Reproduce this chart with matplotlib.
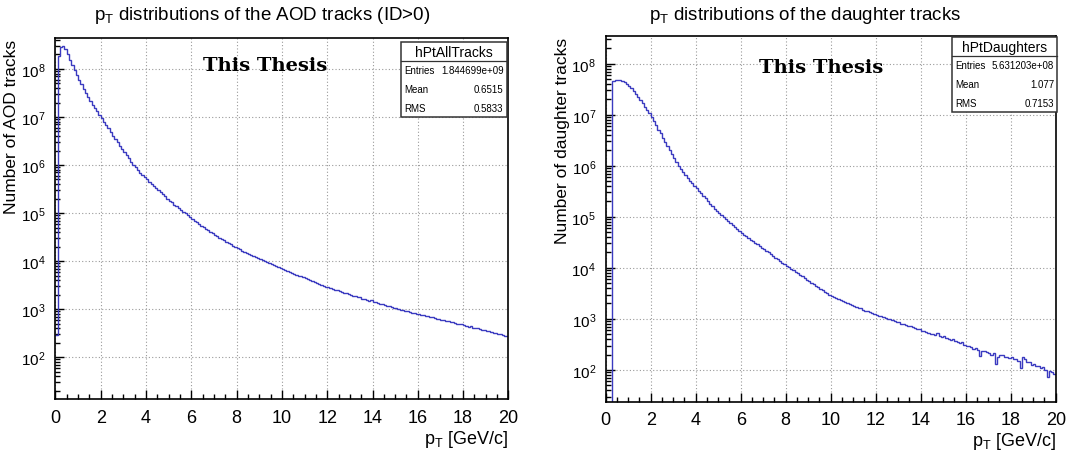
import matplotlib
matplotlib.use("Agg")
import matplotlib.pyplot as plt
from matplotlib.patches import Rectangle
from matplotlib.ticker import (FixedLocator, LogLocator, MultipleLocator,
                               LogFormatterSciNotation, NullFormatter)
import numpy as np

plt.rcParams['font.family'] = ['Liberation Sans', 'DejaVu Sans']
plt.rcParams['mathtext.fontset'] = 'custom'
plt.rcParams['mathtext.rm'] = 'Liberation Sans'
plt.rcParams['mathtext.it'] = 'Liberation Sans'
plt.rcParams['mathtext.default'] = 'regular'

W, H = 1070, 452

# histogram binning (GeV/c)
bin_width = 0.1
n_bins = 200

# hPtAllTracks bin contents
all_tracks = [
    2.9e2, 1.9e8, 2.9e8, 3.0e8, 2.6e8, 2.0e8, 1.55e8, 1.2e8, 9.3e7, 7.4e7,
    5.9e7, 4.8e7, 3.9e7, 3.2e7, 2.6e7, 2.2e7, 1.8e7, 1.55e7, 1.3e7, 1.1e7,
    9.3e6, 7.9e6, 6.8e6, 5.8e6, 4.8e6, 4.1e6, 3.5e6, 2.95e6, 2.5e6, 2.15e6,
    1.85e6, 1.6e6, 1.38e6, 1.17e6, 1.02e6, 8.9e5, 7.9e5, 6.9e5, 6.2e5, 5.5e5,
    5.0e5, 4.5e5, 4.1e5, 3.6e5, 3.3e5, 2.95e5, 2.7e5, 2.45e5, 2.25e5, 2.0e5,
    1.8e5, 1.66e5, 1.5e5, 1.38e5, 1.26e5, 1.15e5, 1.05e5, 9.8e4, 8.9e4, 8.1e4,
    7.6e4, 6.9e4, 6.5e4, 5.9e4, 5.5e4, 5.1e4, 4.7e4, 4.4e4, 4.1e4, 3.8e4,
    3.55e4, 3.3e4, 3.1e4, 2.9e4, 2.7e4, 2.55e4, 2.4e4, 2.25e4, 2.1e4, 1.95e4,
    1.86e4, 1.78e4, 1.66e4, 1.58e4, 1.5e4, 1.41e4, 1.35e4, 1.29e4, 1.23e4, 1.15e4,
    1.1e4, 1.05e4, 1.0e4, 9.5e3, 9.1e3, 8.7e3, 8.3e3, 7.9e3, 7.6e3, 7.2e3,
    6.9e3, 6.6e3, 6.3e3, 6.0e3, 5.75e3, 5.5e3, 5.25e3, 5.0e3, 4.8e3, 4.6e3,
    4.35e3, 4.2e3, 4.0e3, 3.9e3, 3.7e3, 3.55e3, 3.4e3, 3.25e3, 3.1e3, 2.95e3,
    2.9e3, 2.75e3, 2.65e3, 2.55e3, 2.45e3, 2.4e3, 2.3e3, 2.2e3, 2.15e3, 2.05e3,
    2.0e3, 1.9e3, 1.85e3, 1.8e3, 1.75e3, 1.65e3, 1.6e3, 1.55e3, 1.5e3, 1.52e3,
    1.4e3, 1.38e3, 1.32e3, 1.29e3, 1.26e3, 1.2e3, 1.17e3, 1.15e3, 1.1e3, 1.07e3,
    1.05e3, 1.02e3, 9.8e2, 9.5e2, 9.3e2, 9.1e2, 8.7e2, 8.5e2, 8.3e2, 7.9e2,
    7.8e2, 7.6e2, 7.4e2, 7.2e2, 7.1e2, 6.9e2, 7.0e2, 6.6e2, 6.3e2, 6.2e2,
    6.0e2, 5.9e2, 5.75e2, 5.6e2, 5.5e2, 5.5e2, 5.1e2, 5.0e2, 4.9e2, 4.8e2,
    4.7e2, 4.55e2, 4.35e2, 4.4e2, 4.15e2, 4.05e2, 4.0e2, 3.8e2, 3.7e2, 3.6e2,
    3.55e2, 3.45e2, 3.3e2, 3.25e2, 3.15e2, 3.1e2, 3.0e2, 2.9e2, 2.8e2, 2.75e2,
]

# hPtDaughters bin contents
daughters = [
    0, 0, 0, 4.6e7, 4.9e7, 4.9e7, 4.8e7, 4.6e7, 4.4e7, 4.1e7,
    3.7e7, 3.3e7, 2.95e7, 2.6e7, 2.25e7, 1.95e7, 1.7e7, 1.45e7, 1.26e7, 1.07e7,
    8.9e6, 7.4e6, 6.2e6, 5.1e6, 4.3e6, 3.5e6, 2.95e6, 2.45e6, 2.05e6, 1.7e6,
    1.4e6, 1.2e6, 1.0e6, 8.7e5, 7.6e5, 6.6e5, 5.75e5, 5.1e5, 4.6e5, 4.1e5,
    3.6e5, 3.2e5, 2.9e5, 2.6e5, 2.3e5, 2.05e5, 1.8e5, 1.6e5, 1.45e5, 1.3e5,
    1.17e5, 1.07e5, 9.8e4, 8.9e4, 8.1e4, 7.4e4, 6.8e4, 6.3e4, 5.75e4, 5.25e4,
    4.9e4, 4.5e4, 4.2e4, 3.9e4, 3.55e4, 3.3e4, 3.1e4, 2.9e4, 2.7e4, 2.5e4,
    2.3e4, 2.15e4, 2.0e4, 1.85e4, 1.7e4, 1.58e4, 1.47e4, 1.37e4, 1.27e4, 1.18e4,
    1.1e4, 1.02e4, 9.5e3, 8.9e3, 8.3e3, 7.8e3, 7.2e3, 6.8e3, 6.3e3, 5.9e3,
    5.5e3, 5.1e3, 4.8e3, 4.5e3, 4.2e3, 3.9e3, 3.65e3, 3.4e3, 3.2e3, 3.0e3,
    2.85e3, 2.7e3, 2.6e3, 2.45e3, 2.35e3, 2.25e3, 2.15e3, 2.05e3, 1.95e3, 1.85e3,
    1.8e3, 1.7e3, 1.65e3, 1.6e3, 1.5e3, 1.45e3, 1.4e3, 1.35e3, 1.3e3, 1.23e3,
    1.2e3, 1.15e3, 1.12e3, 1.07e3, 1.05e3, 1.0e3, 9.8e2, 9.3e2, 9.1e2, 8.7e2,
    8.5e2, 8.1e2, 7.9e2, 7.6e2, 7.4e2, 7.1e2, 6.9e2, 6.6e2, 6.3e2, 6.2e2,
    5.9e2, 5.75e2, 5.5e2, 5.4e2, 5.1e2, 5.0e2, 4.8e2, 5.25e2, 4.6e2, 4.4e2,
    4.7e2, 4.2e2, 4.1e2, 3.8e2, 4.0e2, 3.6e2, 3.55e2, 3.4e2, 3.45e2, 3.1e2,
    3.0e2, 2.9e2, 2.8e2, 2.55e2, 2.7e2, 2.45e2, 1.85e2, 2.3e2, 2.35e2, 2.2e2,
    2.15e2, 2.0e2, 2.1e2, 1.3e2, 1.8e2, 2.0e2, 1.95e2, 1.75e2, 1.8e2, 1.7e2,
    1.8e2, 1.65e2, 1.6e2, 1.5e2, 1.07e2, 1.75e2, 1.6e2, 1.4e2, 1.45e2, 1.25e2,
    1.3e2, 1.17e2, 1.2e2, 1.1e2, 1.12e2, 1.0e2, 7.1e1, 9.5e1, 8.9e1, 8.3e1,
]

titles = ["p$_{T}$ distributions of the AOD tracks (ID>0)",
          "p$_{T}$ distributions of the daughter tracks"]
ylabels = ["Number of AOD tracks", "Number of daughter tracks"]
xlabel = "p$_{T}$ [GeV/c]"
hist_names = ["hPtAllTracks", "hPtDaughters"]
stat_labels = ["Entries", "Mean", "RMS"]
stat_values = [["1.844699e+09", "0.6515", "0.5833"],
               ["5.631203e+08", "1.077", "0.7153"]]
ylims = [(13.5, 4.4e8), (24, 3.5e8)]
decades = [1e2, 1e3, 1e4, 1e5, 1e6, 1e7, 1e8]

LINE = '#3a3ac0'


def fx(x):
    return x / W


def fy(y):
    return 1 - y / H


def style_axes(ax, ylim):
    ax.set_yscale('log', nonpositive='clip')
    ax.set_xlim(0, 20)
    ax.set_ylim(*ylim)
    ax.xaxis.set_major_locator(MultipleLocator(2))
    ax.xaxis.set_minor_locator(MultipleLocator(0.5))
    ax.yaxis.set_major_locator(FixedLocator(decades))
    ax.yaxis.set_minor_locator(LogLocator(base=10, subs=np.arange(2, 10), numticks=20))
    ax.yaxis.set_major_formatter(LogFormatterSciNotation())
    ax.yaxis.set_minor_formatter(NullFormatter())
    ax.tick_params(which='both', direction='in', top=False, right=False, width=1.0, colors='black')
    ax.tick_params(which='major', length=6.5)
    ax.tick_params(which='minor', length=3.8)
    ax.tick_params(axis='x', labelsize=13, pad=7)
    ax.tick_params(axis='y', labelsize=11, pad=7)
    for s in ax.spines.values():
        s.set_linewidth(1.2)
        s.set_color('black')
    ax.grid(True, which='major', color='#9a9a9a', linestyle=(0, (1, 2)), linewidth=0.8)
    ax.set_axisbelow(True)


def stats_box(fig, x0, y0, x1, y1, ysep, name, values):
    fig.add_artist(Rectangle((fx(x0), fy(y1)), fx(x1 - x0), (y1 - y0) / H,
                             transform=fig.transFigure, facecolor='white',
                             edgecolor='#333333', linewidth=1.1, zorder=5))
    fig.add_artist(plt.Line2D([fx(x0), fx(x1)], [fy(ysep), fy(ysep)],
                              transform=fig.transFigure, color='#333333', linewidth=0.9, zorder=6))
    fig.text(fx((x0 + x1) / 2), fy((y0 + ysep) / 2 + 0.5), name, ha='center', va='center',
             fontsize=10, zorder=7)
    row_h = (y1 - ysep) / 3
    for i, (lab, val) in enumerate(zip(stat_labels, values)):
        yc = ysep + row_h * (i + 0.5)
        fig.text(fx(x0 + 4), fy(yc), lab, ha='left', va='center', fontsize=7,
                 zorder=7)
        fig.text(fx(x1 - 3), fy(yc), val, ha='right', va='center', fontsize=7,
                 zorder=7)


fig = plt.figure(figsize=(W / 100, H / 100), dpi=100)
fig.patch.set_facecolor('white')

# axes frames in pixels: left, top, right, bottom
frames = [(55.4, 39, 508.4, 400), (605.7, 37, 1055.7, 402.5)]
ylabel_x = [12, 562]
edges = np.arange(n_bins + 1) * bin_width

for k, (series, frame) in enumerate(zip([all_tracks, daughters], frames)):
    l, t, r, b = frame
    ax = fig.add_axes([fx(l), fy(b), fx(r - l), (b - t) / H])
    ax.stairs(series, edges, baseline=None, color=LINE, linewidth=1.0)
    style_axes(ax, ylims[k])
    # axis titles, ROOT style: aligned to the far end of each axis
    fig.text(fx(ylabel_x[k]), fy(t + 1), ylabels[k], rotation=90, ha='center', va='top',
             fontsize=12.5)
    fig.text(fx(r), fy(b + 29), xlabel, ha='right', va='top', fontsize=13)

titles_x = [262, 805]
for k in range(2):
    fig.text(fx(titles_x[k]), fy(15), titles[k], ha='center', va='center', fontsize=13.5)

# "This Thesis" labels
fig.text(fx(265), fy(66), "This Thesis", ha='center', va='center', fontsize=14,
         family='DejaVu Serif', weight='bold')
fig.text(fx(821), fy(68), "This Thesis", ha='center', va='center', fontsize=14,
         family='DejaVu Serif', weight='bold')

stats_box(fig, 400.5, 43, 506.5, 118, 61.5, hist_names[0], stat_values[0])
stats_box(fig, 951.5, 38, 1057, 113, 56.5, hist_names[1], stat_values[1])

fig.savefig('out.png', dpi=100, facecolor='white')
